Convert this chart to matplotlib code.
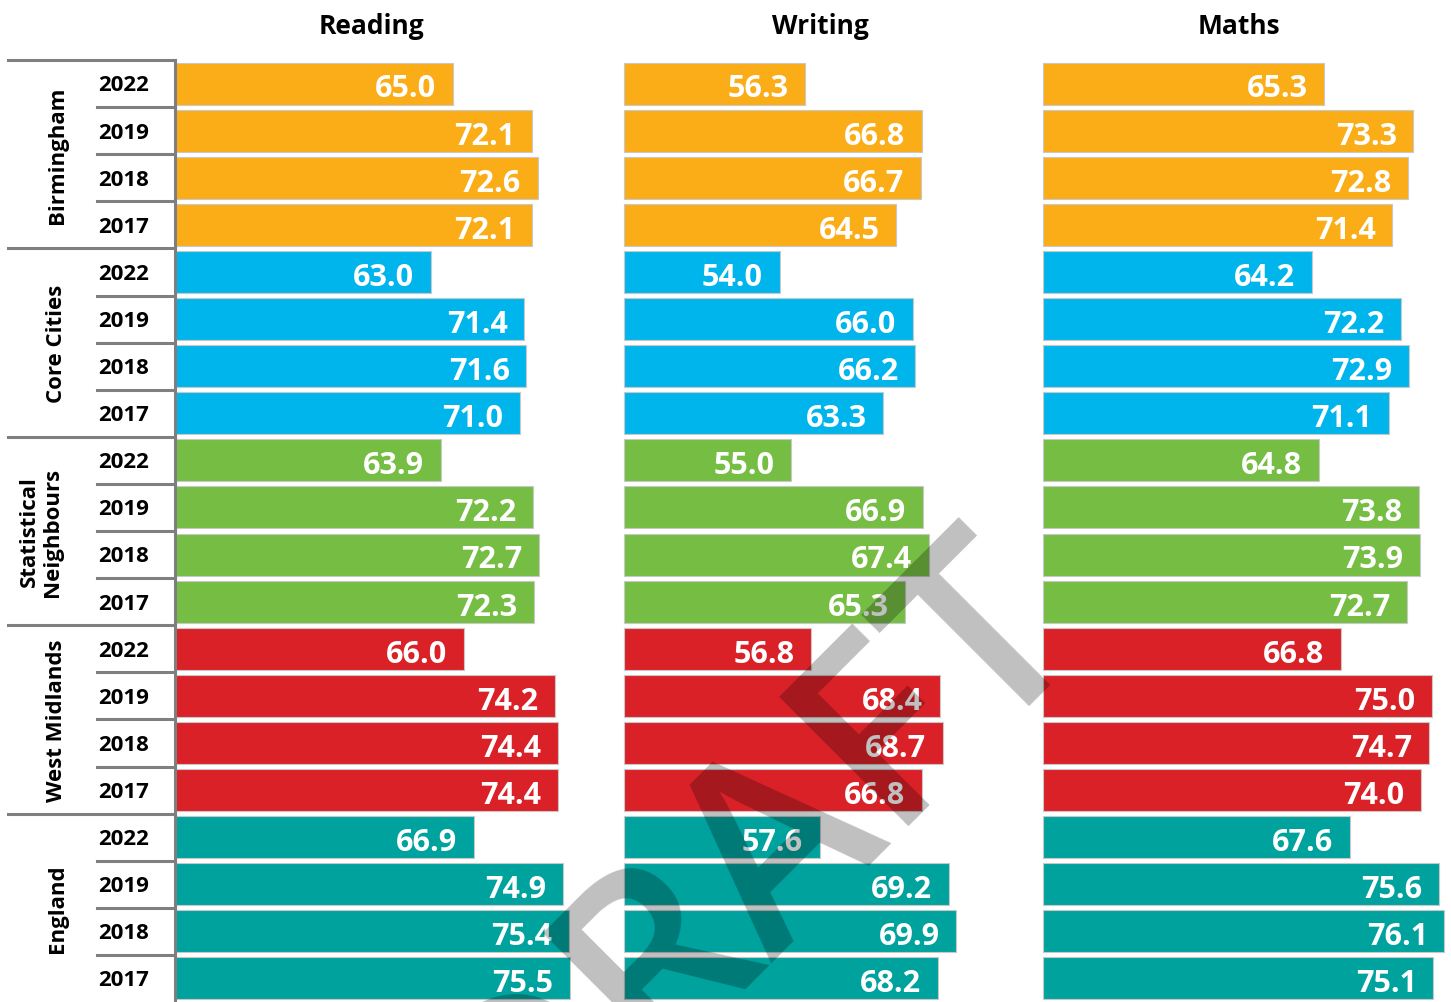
import matplotlib.pyplot as plt
import numpy as np

# data
groups = ["Birmingham", "Core Cities", "Statistical\nNeighbours", "West Midlands", "England"]
years = ["2022", "2019", "2018", "2017"]
subjects = ["Reading", "Writing", "Maths"]

reading = [65.0, 72.1, 72.6, 72.1,
           63.0, 71.4, 71.6, 71.0,
           63.9, 72.2, 72.7, 72.3,
           66.0, 74.2, 74.4, 74.4,
           66.9, 74.9, 75.4, 75.5]
writing = [56.3, 66.8, 66.7, 64.5,
           54.0, 66.0, 66.2, 63.3,
           55.0, 66.9, 67.4, 65.3,
           56.8, 68.4, 68.7, 66.8,
           57.6, 69.2, 69.9, 68.2]
maths = [65.3, 73.3, 72.8, 71.4,
         64.2, 72.2, 72.9, 71.1,
         64.8, 73.8, 73.9, 72.7,
         66.8, 75.0, 74.7, 74.0,
         67.6, 75.6, 76.1, 75.1]

group_colors = ["#FBAD18", "#00B5EC", "#76BE43", "#DA2128", "#00A29E"]
axis_min = 40

W, H = 1451, 1003
fig = plt.figure(figsize=(W / 100, H / 100), dpi=100)
plt.rcParams['font.family'] = ['Open Sans', 'DejaVu Sans']

top_px, bot_px = 61, 1003
n_rows = len(groups) * len(years)
px_per_unit = 11.12
panel_left = [175, 624, 1043]
panel_w = 392

def px_box(x0, y0, w, h):
    return [x0 / W, 1 - (y0 + h) / H, w / W, h / H]

colors = [c for c in group_colors for _ in years]
rows = np.arange(n_rows) + 0.5

for data, name, left in zip([reading, writing, maths], subjects, panel_left):
    ax = fig.add_axes(px_box(left, top_px, panel_w, bot_px - top_px))
    vals = np.array(data)
    ax.barh(rows, vals - axis_min, left=axis_min, height=0.89, color=colors,
            edgecolor="#c8c8c8", linewidth=0.8, clip_on=False)
    ax.set_xlim(axis_min, axis_min + panel_w / px_per_unit)
    ax.set_ylim(n_rows, 0)
    for r, v in zip(rows, data):
        ax.annotate(f"{v:.1f}", (v, r), xytext=(-12, -3.5), textcoords="offset points",
                    ha="right", va="center", color="white", fontsize=22,
                    fontweight="bold", annotation_clip=False)
    ax.axis("off")
    fig.text((left + panel_w / 2) / W, 1 - 27 / H, name, ha="center", va="center",
             fontsize=19, fontweight="bold")

# label column
lab = fig.add_axes(px_box(0, top_px, 175, bot_px - top_px))
lab.set_xlim(0, 175)
lab.set_ylim(n_rows, 0)
lab.axis("off")
line_col = "#7f7f7f"
lab.plot([175, 175], [0, n_rows], color=line_col, lw=2.2, clip_on=False)
for i in range(n_rows):
    if i % len(years) == 0:
        lab.plot([8, 175], [i, i], color=line_col, lw=2.2, clip_on=False)
    else:
        lab.plot([97, 175], [i, i], color=line_col, lw=2.2, clip_on=False)
    lab.text(124, i + 0.53, years[i % len(years)], ha="center", va="center",
             fontsize=16, fontweight="bold")
for g, name in enumerate(groups):
    lab.text(57 if "\n" not in name else 41, g * len(years) + 2, name, rotation=90,
             ha="center", va="center", fontsize=16, fontweight="bold",
             linespacing=1.1, multialignment="center")

# watermark
fig.text(1085 / W, 1 - 625 / H, "DRAFT", rotation=45, rotation_mode="anchor",
         ha="right", va="baseline", fontsize=185, fontweight="semibold",
         color="black", alpha=0.25)

fig.savefig("out.png", dpi=100)
